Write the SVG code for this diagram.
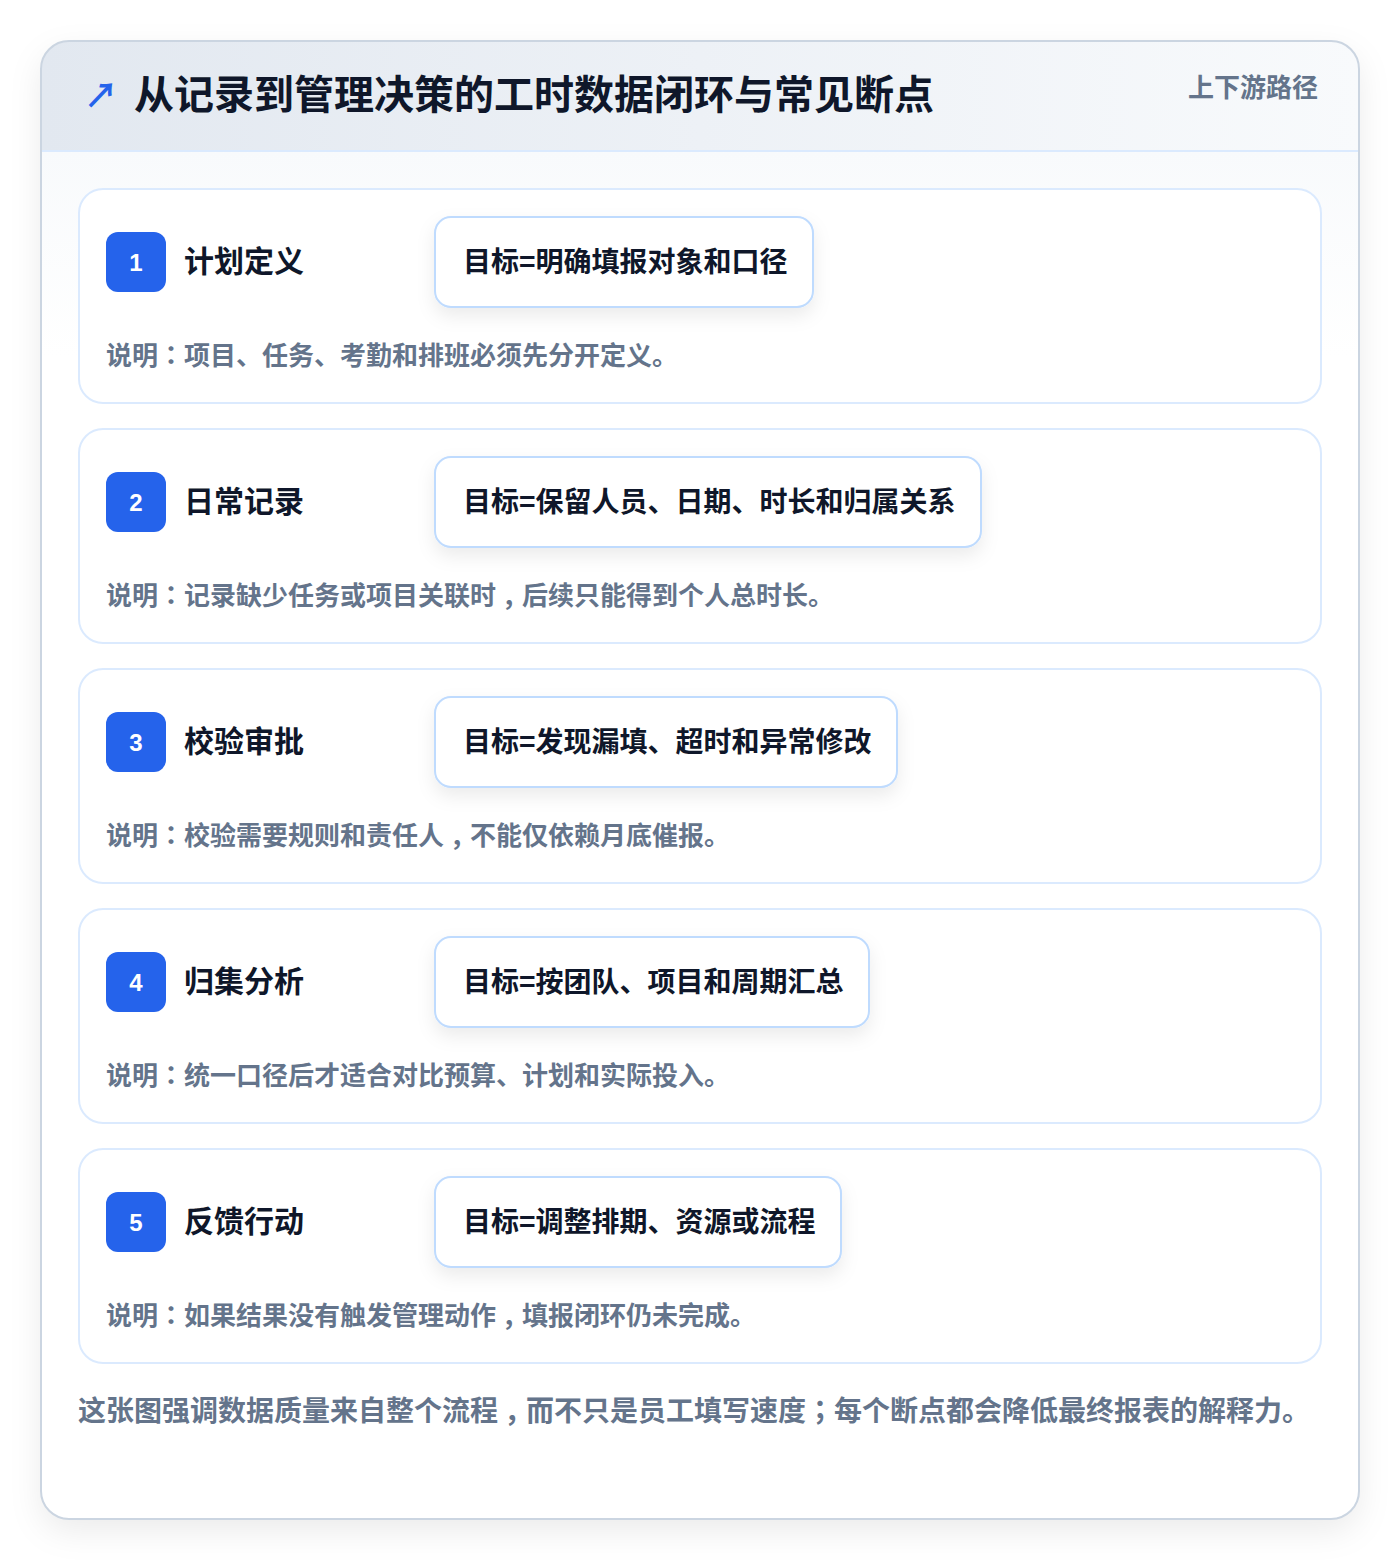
<svg xmlns="http://www.w3.org/2000/svg" width="1400" height="1560" viewBox="0 0 1400 1560">
<defs>
<linearGradient id="hdr" x1="0" y1="0" x2="1" y2="0">
<stop offset="0" stop-color="#e2e8f0"/>
<stop offset="1" stop-color="#f8fafc"/>
</linearGradient>
<linearGradient id="body" x1="0" y1="0" x2="0" y2="1">
<stop offset="0" stop-color="#f8fafc"/>
<stop offset="0.15" stop-color="#ffffff"/>
<stop offset="1" stop-color="#ffffff"/>
</linearGradient>
<filter id="sh" x="-10%" y="-10%" width="120%" height="125%">
<feDropShadow dx="0" dy="12" stdDeviation="16" flood-color="#0f172a" flood-opacity="0.08"/>
</filter>
<filter id="sh2" x="-20%" y="-30%" width="140%" height="190%">
<feDropShadow dx="0" dy="8" stdDeviation="9" flood-color="#0f172a" flood-opacity="0.08"/>
</filter>
<clipPath id="outerClip"><rect x="41" y="41" width="1318" height="1478" rx="28"/></clipPath>
</defs>
<style>
text{font-family:"Noto Sans CJK SC","Liberation Sans",sans-serif}
.p{font-family:"Noto Sans CJK TC","Noto Sans CJK SC",sans-serif}
.card{fill:#ffffff;stroke:#dbeafe;stroke-width:2}
.badge{fill:#2563eb}
.num{fill:#ffffff;font-size:24px;font-weight:700;text-anchor:middle;font-family:"Liberation Sans","Noto Sans CJK SC",sans-serif}
.ttl{fill:#0f172a;font-size:30px;font-weight:700}
.tgt{fill:#ffffff;stroke:#bfdbfe;stroke-width:2}
.tgtt{fill:#0f172a;font-size:28px;font-weight:700}
.desc{fill:#64748b;font-size:26px;font-weight:700}
</style>
<rect width="1400" height="1560" fill="#ffffff"/>
<g id="frame">
<rect x="41" y="41" width="1318" height="1478" rx="28" fill="#ffffff" filter="url(#sh)"/>
<g clip-path="url(#outerClip)">
<rect x="41" y="151" width="1318" height="1368" fill="url(#body)"/>
<rect x="41" y="41" width="1318" height="110" fill="url(#hdr)"/>
<line x1="41" y1="151" x2="1359" y2="151" stroke="#dbeafe" stroke-width="2"/>
</g>
<rect x="41" y="41" width="1318" height="1478" rx="28" fill="none" stroke="#cbd5e1" stroke-width="2"/>
<text x="84" y="108" font-size="34" font-weight="700" fill="#2563eb">↗</text>
<text x="134" y="109" font-size="40" font-weight="700" fill="#0f172a">从记录到管理决策的工时数据闭环与常见断点</text>
<text x="1318" y="97" font-size="26" font-weight="700" fill="#64748b" text-anchor="end">上下游路径</text>
</g>
<g id="node1">
<rect class="card" x="79" y="189" width="1242" height="214" rx="24"/>
<rect class="badge" x="106" y="232" width="60" height="60" rx="12"/>
<text class="num" x="136" y="271">1</text>
<text class="ttl" x="184" y="272">计划定义</text>
<rect class="tgt" x="435" y="217" width="378" height="90" rx="16" filter="url(#sh2)"/>
<text class="tgtt" x="463" y="272">目标=明确填报对象和口径</text>
<text class="desc" x="106" y="365">说明<tspan class="p">：</tspan>项目、任务、考勤和排班必须先分开定义。</text>
</g>
<g id="node2">
<rect class="card" x="79" y="429" width="1242" height="214" rx="24"/>
<rect class="badge" x="106" y="472" width="60" height="60" rx="12"/>
<text class="num" x="136" y="511">2</text>
<text class="ttl" x="184" y="512">日常记录</text>
<rect class="tgt" x="435" y="457" width="546" height="90" rx="16" filter="url(#sh2)"/>
<text class="tgtt" x="463" y="512">目标=保留人员、日期、时长和归属关系</text>
<text class="desc" x="106" y="605">说明<tspan class="p">：</tspan>记录缺少任务或项目关联时<tspan class="p" dy="9">，</tspan><tspan dy="-9">后续只能得到个人总时长。</tspan></text>
</g>
<g id="node3">
<rect class="card" x="79" y="669" width="1242" height="214" rx="24"/>
<rect class="badge" x="106" y="712" width="60" height="60" rx="12"/>
<text class="num" x="136" y="751">3</text>
<text class="ttl" x="184" y="752">校验审批</text>
<rect class="tgt" x="435" y="697" width="462" height="90" rx="16" filter="url(#sh2)"/>
<text class="tgtt" x="463" y="752">目标=发现漏填、超时和异常修改</text>
<text class="desc" x="106" y="845">说明<tspan class="p">：</tspan>校验需要规则和责任人<tspan class="p" dy="9">，</tspan><tspan dy="-9">不能仅依赖月底催报。</tspan></text>
</g>
<g id="node4">
<rect class="card" x="79" y="909" width="1242" height="214" rx="24"/>
<rect class="badge" x="106" y="952" width="60" height="60" rx="12"/>
<text class="num" x="136" y="991">4</text>
<text class="ttl" x="184" y="992">归集分析</text>
<rect class="tgt" x="435" y="937" width="434" height="90" rx="16" filter="url(#sh2)"/>
<text class="tgtt" x="463" y="992">目标=按团队、项目和周期汇总</text>
<text class="desc" x="106" y="1085">说明<tspan class="p">：</tspan>统一口径后才适合对比预算、计划和实际投入。</text>
</g>
<g id="node5">
<rect class="card" x="79" y="1149" width="1242" height="214" rx="24"/>
<rect class="badge" x="106" y="1192" width="60" height="60" rx="12"/>
<text class="num" x="136" y="1231">5</text>
<text class="ttl" x="184" y="1232">反馈行动</text>
<rect class="tgt" x="435" y="1177" width="406" height="90" rx="16" filter="url(#sh2)"/>
<text class="tgtt" x="463" y="1232">目标=调整排期、资源或流程</text>
<text class="desc" x="106" y="1325">说明<tspan class="p">：</tspan>如果结果没有触发管理动作<tspan class="p" dy="9">，</tspan><tspan dy="-9">填报闭环仍未完成。</tspan></text>
</g>
<g id="connectors"></g>
<text x="78" y="1421" font-size="28" font-weight="700" fill="#64748b">这张图强调数据质量来自整个流程<tspan class="p" dy="10">，</tspan><tspan dy="-10">而不只是员工填写速度</tspan><tspan class="p">；</tspan>每个断点都会降低最终报表的解释力。</text>
</svg>
